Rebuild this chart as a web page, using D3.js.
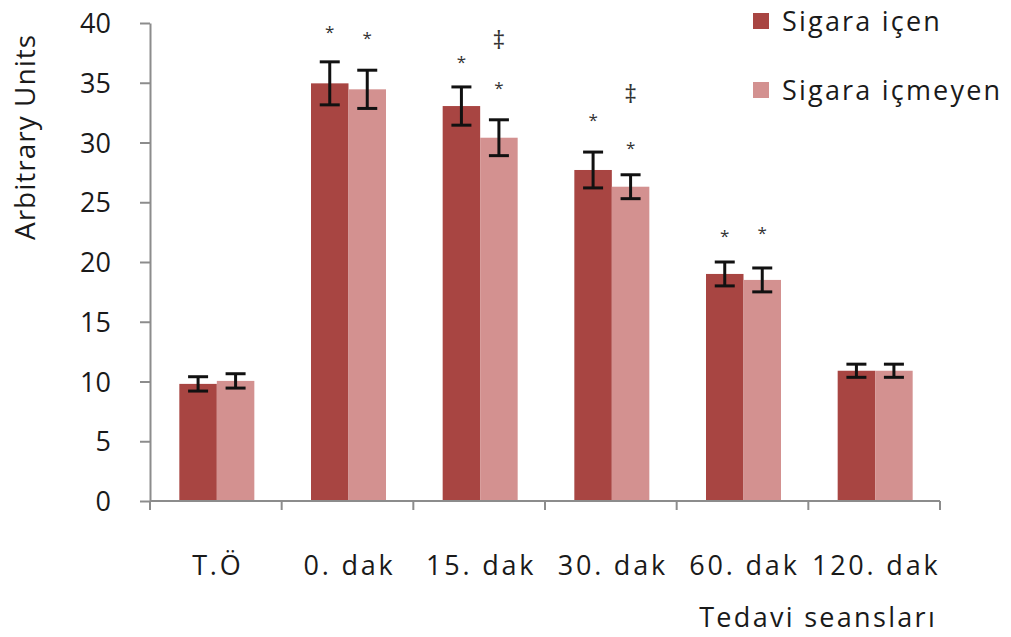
<!DOCTYPE html>
<html>
<head>
<meta charset="utf-8">
<script src="https://cdn.jsdelivr.net/npm/d3@7"></script>
<style>
  body { margin: 0; background: #fff; }
  svg text { font-family: "Open Sans", sans-serif; fill: #1a1a1a; }
</style>
</head>
<body>
<div id="chart"></div>
<script>
// Categories and series
const categories = ["T.Ö", "0. dak", "15. dak", "30. dak", "60. dak", "120. dak"];
const seriesNames = ["Sigara içen", "Sigara içmeyen"];
const smokers = [9.8, 34.95, 33.05, 27.7, 19.0, 10.9];
const nonSmokers = [10.05, 34.45, 30.4, 26.3, 18.5, 10.9];
const smokersErr = [0.6, 1.8, 1.6, 1.5, 1.0, 0.55];
const nonSmokersErr = [0.6, 1.6, 1.5, 1.0, 1.0, 0.55];
// significance marks: [category index, series index, symbol, value level]
const marks = [
    [1, 0, "*", 39.6], [1, 1, "*", 39.05],
    [2, 0, "*", 37.05], [2, 1, "*", 34.9], [2, 1, "‡", 38.4],
    [3, 0, "*", 32.2], [3, 1, "*", 29.85], [3, 1, "‡", 33.9],
    [4, 0, "*", 22.5], [4, 1, "*", 22.8]
];
const yTicks = [0, 5, 10, 15, 20, 25, 30, 35, 40];

const colors = ["#a84542", "#d39190"];

const width = 1011, height = 637;
const margin = { left: 150, right: 71, top: 23, bottom: 136 };

const svg = d3.select("#chart").append("svg")
    .attr("width", width)
    .attr("height", height);

const x = d3.scaleBand()
    .domain(categories)
    .range([margin.left, width - margin.right]);

const x1 = d3.scaleBand()
    .domain([0, 1])
    .range([0, 75]);

const y = d3.scaleLinear()
    .domain([0, 40])
    .range([height - margin.bottom, margin.top]);

const rows = categories.map((c, i) => ({
    cat: c,
    vals: [
        { s: 0, v: smokers[i], e: smokersErr[i] },
        { s: 1, v: nonSmokers[i], e: nonSmokersErr[i] }
    ]
}));

const groupOffset = (x.bandwidth() - 75) / 2 + 1;

// Bars
const g = svg.append("g")
    .selectAll("g")
    .data(rows)
    .join("g")
    .attr("transform", d => `translate(${x(d.cat) + groupOffset},0)`);

g.selectAll("rect")
    .data(d => d.vals)
    .join("rect")
    .attr("x", d => x1(d.s))
    .attr("y", d => y(d.v))
    .attr("width", x1.bandwidth())
    .attr("height", d => y(0) - y(d.v))
    .attr("fill", d => colors[d.s]);

// Error bars
const eb = g.selectAll("g.err")
    .data(d => d.vals)
    .join("g")
    .attr("class", "err")
    .attr("stroke", "#111")
    .attr("stroke-width", 3);

eb.append("line")
    .attr("x1", d => x1(d.s) + x1.bandwidth() / 2)
    .attr("x2", d => x1(d.s) + x1.bandwidth() / 2)
    .attr("y1", d => y(d.v + d.e))
    .attr("y2", d => y(d.v - d.e));
[1, -1].forEach(sign => {
    eb.append("line")
        .attr("x1", d => x1(d.s) + x1.bandwidth() / 2 - 10)
        .attr("x2", d => x1(d.s) + x1.bandwidth() / 2 + 10)
        .attr("y1", d => y(d.v + sign * d.e))
        .attr("y2", d => y(d.v + sign * d.e));
});

// Significance marks
svg.append("g")
    .selectAll("text")
    .data(marks)
    .join("text")
    .attr("x", d => x(categories[d[0]]) + groupOffset + x1(d[1]) + x1.bandwidth() / 2)
    .attr("y", d => y(d[3]) + (d[2] === "*" ? 10 : 7))
    .attr("text-anchor", "middle")
    .style("font-size", d => d[2] === "*" ? "17px" : "25px")
    .style("fill", "#333")
    .text(d => d[2]);

// Y axis
const yAxis = svg.append("g")
    .attr("transform", `translate(${margin.left},0)`)
    .call(d3.axisLeft(y).tickValues(yTicks).tickSize(10).tickPadding(29).tickSizeOuter(0));
yAxis.select(".domain").attr("stroke", "#8c8c8c").attr("stroke-width", 2);
yAxis.selectAll(".tick line").attr("stroke", "#8c8c8c").attr("stroke-width", 2);
yAxis.selectAll(".tick text")
    .style("font-size", "27px")
    .style("font-family", "'Open Sans', sans-serif")
    .attr("fill", "#1a1a1a")
    .attr("dy", "0.36em");

// X axis: ticks at band boundaries
const bounds = categories.map(c => x(c)).concat([x.range()[1]]);
const xAxis = svg.append("g").attr("transform", `translate(0,${y(0)})`);
xAxis.append("line")
    .attr("x1", x.range()[0]).attr("x2", x.range()[1])
    .attr("stroke", "#8c8c8c").attr("stroke-width", 2);
xAxis.selectAll("line.tk")
    .data(bounds)
    .join("line")
    .attr("class", "tk")
    .attr("x1", d => d).attr("x2", d => d)
    .attr("y1", 0).attr("y2", 9)
    .attr("stroke", "#8c8c8c").attr("stroke-width", 2);
xAxis.selectAll("text")
    .data(categories)
    .join("text")
    .attr("x", d => x(d) + x.bandwidth() / 2 + 2)
    .attr("y", 74)
    .attr("text-anchor", "middle")
    .style("font-size", "27px")
    .style("letter-spacing", "2.8px")
    .text(d => d);

// Axis titles
svg.append("text")
    .attr("transform", `translate(35,137) rotate(-90)`)
    .attr("text-anchor", "middle")
    .style("font-size", "28px")
    .style("letter-spacing", "1px")
    .text("Arbitrary Units");

svg.append("text")
    .attr("x", 937)
    .attr("y", 627)
    .attr("text-anchor", "end")
    .style("font-size", "27px")
    .style("letter-spacing", "2.3px")
    .text("Tedavi seansları");

// Legend
const legend = svg.append("g")
    .selectAll("g")
    .data(seriesNames)
    .join("g")
    .attr("transform", (d, i) => `translate(753,${21 + i * 69})`);
legend.append("rect")
    .attr("x", 0).attr("y", -8)
    .attr("width", 16).attr("height", 16)
    .attr("fill", (d, i) => colors[i]);
legend.append("text")
    .attr("x", 29)
    .attr("y", 10)
    .style("font-size", "27px")
    .style("letter-spacing", "2.2px")
    .text(d => d);
</script>
</body>
</html>
